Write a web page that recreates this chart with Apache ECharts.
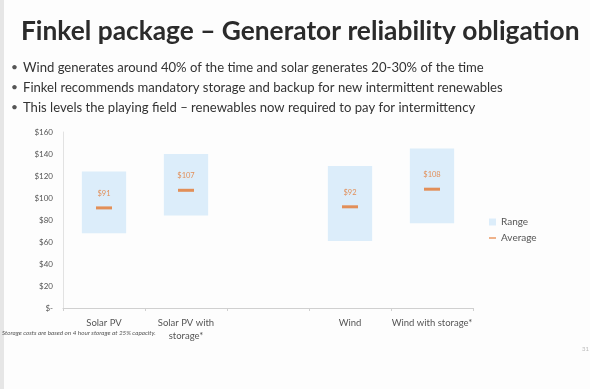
<!DOCTYPE html>
<html><head><meta charset="utf-8">
<script src="https://cdn.jsdelivr.net/npm/echarts@6/dist/echarts.min.js"></script>
<style>html,body{margin:0;padding:0;background:#fff;}#c{width:590px;height:389px;}</style>
</head><body><div id="c"></div>
<script>
const categories = ['Solar PV', 'Solar PV with\nstorage*', '', 'Wind', 'Wind with storage*'];
const rangeLow = [68, 84, null, 61, 77];
const rangeHigh = [124, 140, null, 129, 145];
const averages = [91, 107, null, 92, 108];
const averageLabels = ['$91', '$107', '', '$92', '$108'];
const yTicks = [0, 20, 40, 60, 80, 100, 120, 140, 160];
const bullets = [
  'Wind generates around 40% of the time and solar generates 20-30% of the time',
  'Finkel recommends mandatory storage and backup for new intermittent renewables',
  'This levels the playing field \u2013 renewables now required to pay for intermittency'
];
const titleText = 'Finkel package \u2013 Generator reliability obligation';
const footnote = 'Storage costs are based on 4 hour storage at 25% capacity.';

const chart = echarts.init(document.getElementById('c'));
const FONT = 'Lato, "Open Sans", sans-serif';
const graphics = [
  {type:'rect', left:0, top:0, shape:{width:4, height:389}, style:{fill:'#e6e6e6'}},
  {type:'text', left:21, top:19, style:{text:titleText, font:'bold 26.3px ' + FONT, fill:'#2b2b2b'}}
];
bullets.forEach((b, i) => {
  graphics.push({type:'text', left:11, top:61 + i*20.3, style:{text:'\u2022', font:'12px ' + FONT, fill:'#555'}});
  graphics.push({type:'text', left:23, top:61 + i*20.3, style:{text:b, font:'13.1px ' + FONT, fill:'#333'}});
});
graphics.push({type:'text', left:2, top:330, style:{text:footnote, font:'italic 6.3px ' + FONT, fill:'#555'}});
graphics.push({type:'text', left:582, top:346, style:{text:'31', font:'6px ' + FONT, fill:'#bbb'}});

chart.setOption({
  animation:false,
  backgroundColor:'#fdfdfd',
  graphic: graphics,
  grid:{left:63, right:117, top:132, bottom:81},
  legend:{
    orient:'vertical', left:484, top:212, itemGap:6, itemWidth:7, itemHeight:7,
    textStyle:{color:'#555', fontSize:10, fontFamily:FONT},
    data:[{name:'Range', icon:'rect'}, {name:'Average', icon:'path://M0,4H10V6H0Z'}]
  },
  xAxis:{
    type:'category', data:categories,
    axisLine:{lineStyle:{color:'#d0d0d0'}},
    axisTick:{show:true, length:3, lineStyle:{color:'#d0d0d0'}},
    axisLabel:{color:'#555', fontSize:9.5, fontFamily:FONT, margin:8, interval:0, lineHeight:13}
  },
  yAxis:{
    type:'value', min:0, max:160, interval:20,
    axisLine:{show:true, lineStyle:{color:'#e2e2e2'}},
    axisTick:{show:false},
    splitLine:{show:false},
    axisLabel:{color:'#555', fontSize:8, fontFamily:FONT, margin:10,
      formatter: v => yTicks.includes(v) ? (v === 0 ? '$-' : '$' + v) : ''}
  },
  series:[
    {name:'base', type:'bar', stack:'r', data:rangeLow, barWidth:'54%', itemStyle:{color:'transparent'}, silent:true},
    {name:'Range', type:'bar', stack:'r', barWidth:'54%',
      data:rangeHigh.map((h,i) => h == null ? null : h - rangeLow[i]),
      itemStyle:{color:'#dcedfa'}},
    {name:'Average', type:'scatter', data:averages, symbol:'rect', symbolSize:[16,3],
      itemStyle:{color:'#e4772f'},
      label:{show:true, position:'top', distance:9, color:'#e4772f', fontSize:7.5, fontFamily:FONT,
        formatter: p => averageLabels[p.dataIndex]}}
  ]
});
</script></body></html>
